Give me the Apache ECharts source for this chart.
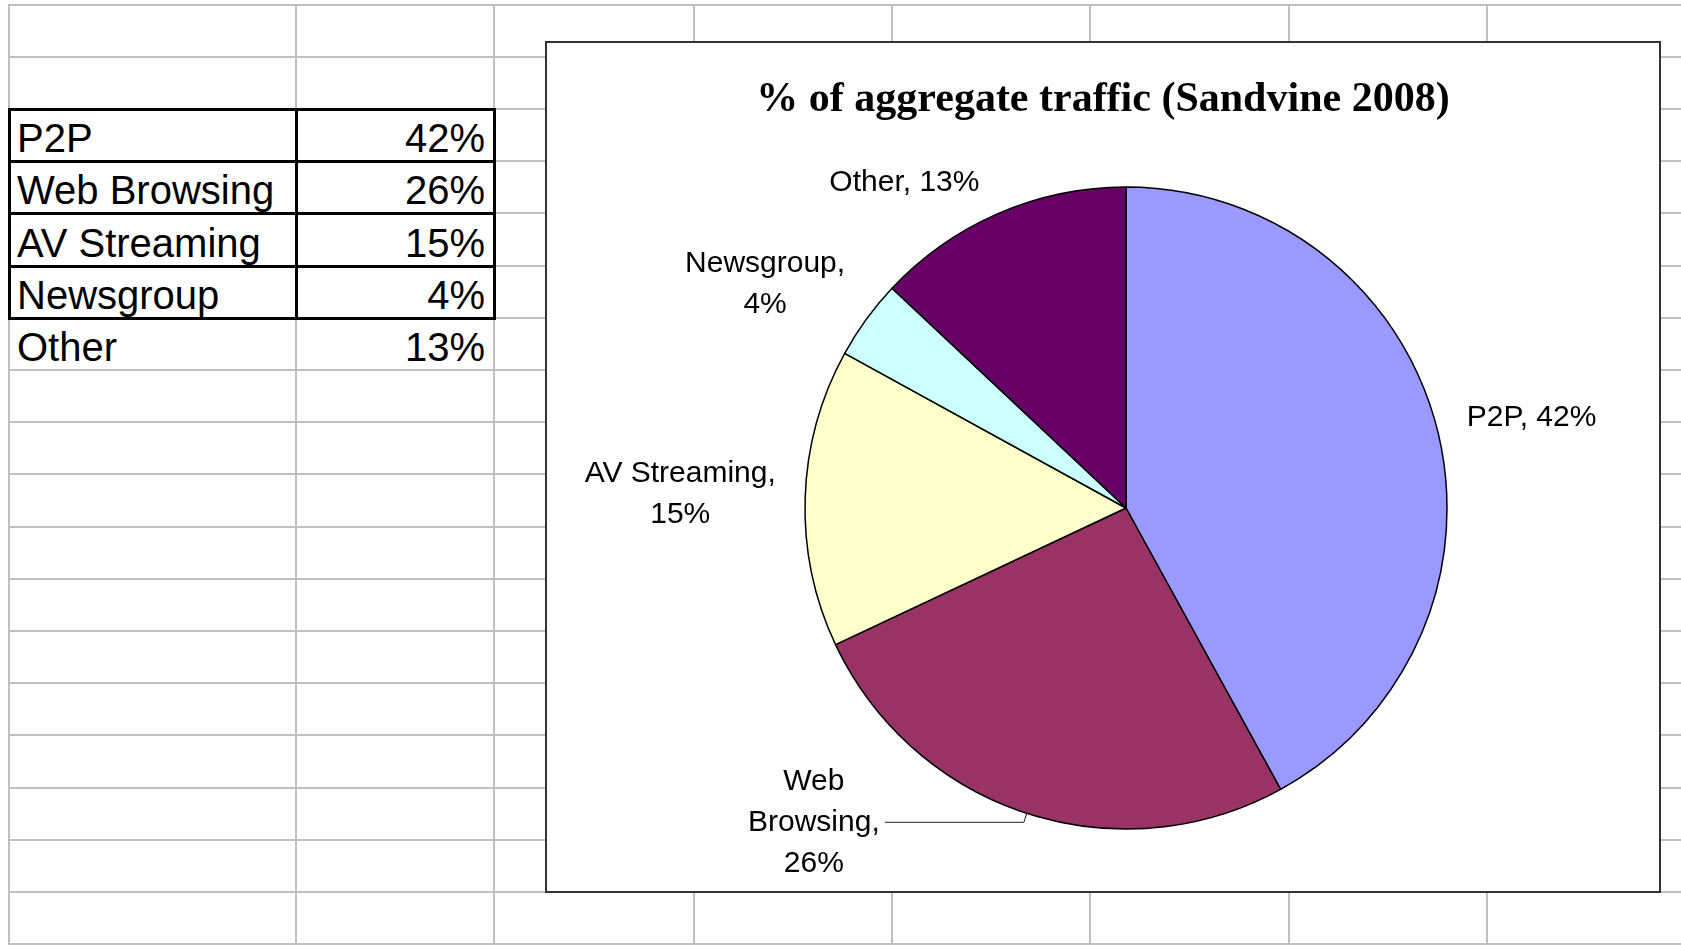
<!DOCTYPE html>
<html>
<head>
<meta charset="utf-8">
<title>% of aggregate traffic (Sandvine 2008)</title>
<script src="https://cdn.jsdelivr.net/npm/echarts/dist/echarts.min.js"></script>
<style>
  html, body { margin: 0; padding: 0; background: #fff; }
  body { width: 1681px; height: 945px; position: relative; overflow: hidden; font-family: 'Liberation Sans', Arial, sans-serif; }
  .gl { position: absolute; background: #c0c0c0; }
  .bl { position: absolute; background: #000; }
  .cell { position: absolute; font-size: 40px; line-height: 40px; color: #000; white-space: nowrap; }
  #chart { position: absolute; left: 545px; top: 41px; width: 1116px; height: 852px; border: 2px solid #333; box-sizing: border-box; background: #fff; }
</style>
</head>
<body>
<div id="sheet"></div>
<div id="chart"></div>
<script>
// 数据
const categories = ['P2P', 'Web Browsing', 'AV Streaming', 'Newsgroup', 'Other']
const shares = [42, 26, 15, 4, 13]
const sliceColors = ['#9999FF', '#993366', '#FFFFCC', '#CCFFFF', '#660066']
const chartTitle = '% of aggregate traffic (Sandvine 2008)'

// 表格网格线位置
const colX = [9, 296, 494, 694, 892, 1090, 1289, 1487]
const rowY = [5, 57, 109, 161, 213, 266, 318, 370, 422, 474, 527, 579, 631, 683, 735, 788, 840, 892, 944]

// 标签换行方式: 0 一行, 1 数值另起一行, 2 每个词一行
const labelWrap = [0, 2, 1, 1, 0]
// 标签位置 [labelLine.length, labelLine.length2]
const labelOffsets = [[43, -17], [9.5, 139], [130, -106], [59, -32], [33, 0.5]]
const labelFont = 30

const sheet = document.getElementById('sheet')
const addDiv = (cls, l, t, w, h) => {
  const d = document.createElement('div')
  d.className = cls
  d.style.left = l + 'px'; d.style.top = t + 'px'
  d.style.width = w + 'px'; d.style.height = h + 'px'
  sheet.appendChild(d)
  return d
}

// 灰色网格
colX.forEach(x => addDiv('gl', x - 1, rowY[0] - 1, 2, 945))
rowY.forEach(y => addDiv('gl', colX[0] - 1, y - 1, 1681, 2))

// 黑色边框 (前四行)
for (let r = 2; r <= 6; r++) addDiv('bl', colX[0] - 1.5, rowY[r] - 1.5, colX[2] - colX[0] + 3, 3)
for (let c = 0; c <= 2; c++) addDiv('bl', colX[c] - 1.5, rowY[2] - 1.5, 3, rowY[6] - rowY[2] + 3)

// 单元格文字
categories.forEach((name, i) => {
  const bottom = rowY[i + 3]
  const n = addDiv('cell', 17, bottom - 43, colX[1] - 20, 40)
  n.textContent = name
  const v = addDiv('cell', colX[1], bottom - 43, colX[2] - colX[1] - 9, 40)
  v.style.textAlign = 'right'
  v.textContent = shares[i] + '%'
})

// 饼图标签
const measure = document.createElement('canvas').getContext('2d')
measure.font = labelFont + 'px "Liberation Sans"'
const labelLines = i => {
  const name = categories[i], v = shares[i] + '%'
  if (labelWrap[i] === 0) return [name + ', ' + v]
  if (labelWrap[i] === 1) return [name + ',', v]
  const words = name.split(' ')
  return words.map((w, k) => k === words.length - 1 ? w + ',' : w).concat(v)
}

const chart = echarts.init(document.getElementById('chart'))
chart.setOption({
  animation: false,
  title: {
    text: chartTitle,
    left: 'center',
    top: 36,
    padding: 0,
    textStyle: {fontFamily: 'Liberation Serif', fontWeight: 'bold', fontSize: 42, color: '#000'}
  },
  series: [{
    type: 'pie',
    center: [579, 465],
    radius: 321,
    startAngle: 90,
    clockwise: true,
    avoidLabelOverlap: false,
    silent: true,
    itemStyle: {borderColor: '#000', borderWidth: 1.5},
    label: {
      position: 'outside',
      formatter: p => labelLines(p.dataIndex).map(l => '{t|' + l + '}').join('\n')
    },
    labelLine: {lineStyle: {color: '#222', width: 1}},
    emphasis: {disabled: true},
    data: categories.map((name, i) => {
      const lines = labelLines(i)
      const w = Math.ceil(Math.max(...lines.map(l => measure.measureText(l).width)))
      return {
        name,
        value: shares[i],
        itemStyle: {color: sliceColors[i]},
        label: {
          rich: {t: {width: w, align: 'center', fontFamily: 'Liberation Sans', fontSize: labelFont, lineHeight: 41, color: '#000'}}
        },
        labelLine: {show: i === 1, length: labelOffsets[i][0], length2: labelOffsets[i][1]}
      }
    })
  }]
})
</script>
</body>
</html>
